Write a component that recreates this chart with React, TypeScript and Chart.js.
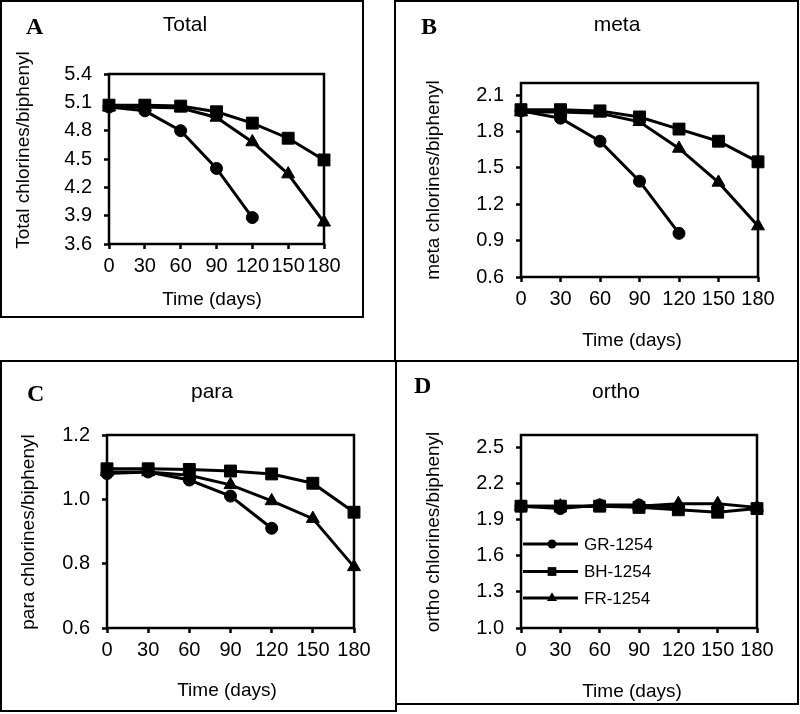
import React, { useEffect, useRef } from 'react';
import { Chart, registerables } from 'chart.js';

Chart.register(...registerables);

// ---------- data ----------
const days = [0, 30, 60, 90, 120, 150, 180];
const seriesNames = ['GR-1254', 'BH-1254', 'FR-1254'];

const totalGR = [5.05, 5.01, 4.8, 4.4, 3.88];
const totalBH = [5.07, 5.07, 5.06, 5.0, 4.88, 4.72, 4.49];
const totalFR = [5.05, 5.05, 5.04, 4.94, 4.68, 4.34, 3.83];

const metaGR = [1.97, 1.91, 1.72, 1.39, 0.96];
const metaBH = [1.98, 1.98, 1.97, 1.92, 1.82, 1.72, 1.55];
const metaFR = [1.96, 1.96, 1.95, 1.88, 1.66, 1.38, 1.02];

const paraGR = [1.08, 1.085, 1.06, 1.01, 0.91];
const paraBH = [1.095, 1.095, 1.093, 1.088, 1.079, 1.05, 0.96];
const paraFR = [1.085, 1.085, 1.075, 1.045, 0.995, 0.94, 0.79];

const orthoGR = [2.01, 1.99, 2.02, 2.02, 2.0];
const orthoBH = [2.01, 2.01, 2.01, 2.0, 1.98, 1.96, 1.99];
const orthoFR = [2.01, 2.01, 2.01, 2.01, 2.03, 2.03, 2.0];

const totalTicks = [3.6, 3.9, 4.2, 4.5, 4.8, 5.1, 5.4];
const metaTicks = [0.6, 0.9, 1.2, 1.5, 1.8, 2.1];
const paraTicks = [0.6, 0.8, 1.0, 1.2];
const orthoTicks = [1.0, 1.3, 1.6, 1.9, 2.2, 2.5];

const xTitle = 'Time (days)';

// ---------- styles ----------
const SANS = "'Liberation Sans', Arial, Helvetica, sans-serif";
const SERIF = "'Liberation Serif', 'Times New Roman', serif";

const seriesStyles = [
  { pointStyle: 'circle', pointRadius: 6, legendRadius: 4.5 },
  { pointStyle: 'rect', pointRadius: 8.4, legendRadius: 6.2 },
  { pointStyle: 'triangle', pointRadius: 7.5, legendRadius: 5.8 },
];

type PanelCfg = {
  letter: string;
  heading: string;
  yTitle: string;
  series: number[][];
  yMin: number;
  yMax: number;
  yTicks: number[];
  box: { x: number; y: number; w: number; h: number };
  padTop: number;
  padRight: number;
  yAxisW: number;
  xAxisH: number;
  letterPos: [number, number];
  headingPos: [number, number];
  yTitlePos: [number, number];
  xTitlePos: [number, number];
  legend?: { x1: number; x2: number; mx: number; tx: number; rows: number[] };
};

const panels: PanelCfg[] = [
  {
    letter: 'A', heading: 'Total', yTitle: 'Total chlorines/biphenyl',
    series: [totalGR, totalBH, totalFR], yMin: 3.6, yMax: 5.4, yTicks: totalTicks,
    box: { x: 0, y: 0, w: 364, h: 318 },
    padTop: 74, padRight: 40, yAxisW: 109, xAxisH: 74,
    letterPos: [26, 34], headingPos: [185, 31], yTitlePos: [29, 150], xTitlePos: [212, 305],
  },
  {
    letter: 'B', heading: 'meta', yTitle: 'meta chlorines/biphenyl',
    series: [metaGR, metaBH, metaFR], yMin: 0.6, yMax: 2.2, yTicks: metaTicks,
    box: { x: 394, y: 0, w: 405, h: 362 },
    padTop: 83, padRight: 41, yAxisW: 127, xAxisH: 85,
    letterPos: [27, 34], headingPos: [223, 31], yTitlePos: [45, 180], xTitlePos: [238, 346],
  },
  {
    letter: 'C', heading: 'para', yTitle: 'para chlorines/biphenyl',
    series: [paraGR, paraBH, paraFR], yMin: 0.6, yMax: 1.2, yTicks: paraTicks,
    box: { x: 0, y: 360, w: 397, h: 352 },
    padTop: 75, padRight: 43, yAxisW: 107, xAxisH: 84,
    letterPos: [27, 41], headingPos: [212, 38], yTitlePos: [34, 172], xTitlePos: [227, 336],
  },
  {
    letter: 'D', heading: 'ortho', yTitle: 'ortho chlorines/biphenyl',
    series: [orthoGR, orthoBH, orthoFR], yMin: 1.0, yMax: 2.6, yTicks: orthoTicks,
    box: { x: 395, y: 360, w: 404, h: 345 },
    padTop: 75, padRight: 42, yAxisW: 126, xAxisH: 77,
    letterPos: [19, 33], headingPos: [221, 38], yTitlePos: [44, 172], xTitlePos: [237, 337],
    legend: { x1: 128, x2: 183, mx: 157, tx: 189, rows: [184, 211.5, 238] },
  },
];

function drawMarker(ctx: CanvasRenderingContext2D, style: string, r: number, x: number, y: number) {
  ctx.beginPath();
  if (style === 'circle') {
    ctx.arc(x, y, r, 0, Math.PI * 2);
  } else if (style === 'rect') {
    const s = Math.SQRT1_2 * r;
    ctx.rect(x - s, y - s, 2 * s, 2 * s);
  } else {
    let rad = 0;
    ctx.moveTo(x + Math.sin(rad) * r, y - Math.cos(rad) * r);
    rad += (2 * Math.PI) / 3;
    ctx.lineTo(x + Math.sin(rad) * r, y - Math.cos(rad) * r);
    rad += (2 * Math.PI) / 3;
    ctx.lineTo(x + Math.sin(rad) * r, y - Math.cos(rad) * r);
    ctx.closePath();
  }
  ctx.fill();
}

const decorPlugin = {
  id: 'panelDecor',
  beforeDatasetsDraw(chart: any) {
    const { ctx, chartArea: a } = chart;
    ctx.save();
    ctx.strokeStyle = '#000';
    ctx.lineWidth = 2.5;
    ctx.strokeRect(a.left, a.top, a.right - a.left, a.bottom - a.top);
    ctx.restore();
  },
  afterDraw(chart: any, _args: any, opts: any) {
    const ctx: CanvasRenderingContext2D = chart.ctx;
    const cfg: PanelCfg = opts.cfg;
    ctx.save();
    ctx.fillStyle = '#000';
    ctx.textBaseline = 'alphabetic';

    ctx.font = `bold 24px ${SERIF}`;
    ctx.textAlign = 'left';
    ctx.fillText(cfg.letter, cfg.letterPos[0], cfg.letterPos[1]);

    ctx.font = `21px ${SANS}`;
    ctx.textAlign = 'center';
    ctx.fillText(cfg.heading, cfg.headingPos[0], cfg.headingPos[1]);

    ctx.font = `19px ${SANS}`;
    ctx.fillText(xTitle, cfg.xTitlePos[0], cfg.xTitlePos[1]);

    ctx.save();
    ctx.translate(cfg.yTitlePos[0], cfg.yTitlePos[1]);
    ctx.rotate(-Math.PI / 2);
    ctx.fillText(cfg.yTitle, 0, 0);
    ctx.restore();

    if (cfg.legend) {
      const L = cfg.legend;
      chart.data.datasets.forEach((ds: any, i: number) => {
        const y = L.rows[i];
        ctx.strokeStyle = '#000';
        ctx.lineWidth = 3;
        ctx.beginPath();
        ctx.moveTo(L.x1, y);
        ctx.lineTo(L.x2, y);
        ctx.stroke();
        drawMarker(ctx, seriesStyles[i].pointStyle, seriesStyles[i].legendRadius, L.mx, y);
        ctx.font = `17px ${SANS}`;
        ctx.textAlign = 'left';
        ctx.textBaseline = 'middle';
        ctx.fillText(ds.label, L.tx, y + 1);
      });
    }
    ctx.restore();
  },
};

function Panel({ cfg }: { cfg: PanelCfg }) {
  const ref = useRef<HTMLCanvasElement>(null);
  useEffect(() => {
    const tickGrid = {
      display: true,
      drawOnChartArea: false,
      drawTicks: true,
      tickLength: 5,
      tickWidth: 2.5,
      tickColor: '#000',
      color: '#000',
    };
    const chart = new Chart(ref.current as HTMLCanvasElement, {
      type: 'line',
      data: {
        datasets: cfg.series.map((vals, i) => ({
          label: seriesNames[i],
          data: vals.map((v, j) => ({ x: days[j], y: v })),
          borderColor: '#000',
          backgroundColor: '#000',
          borderWidth: 3,
          pointStyle: seriesStyles[i].pointStyle as any,
          pointRadius: seriesStyles[i].pointRadius,
          pointBackgroundColor: '#000',
          pointBorderColor: '#000',
          pointBorderWidth: 1,
          tension: 0,
          clip: false as any,
        })),
      },
      options: {
        animation: false,
        responsive: false,
        maintainAspectRatio: false,
        devicePixelRatio: 1,
        events: [],
        layout: { padding: { top: cfg.padTop, right: cfg.padRight, left: 0, bottom: 0 } },
        plugins: {
          legend: { display: false },
          tooltip: { enabled: false },
          title: { display: false },
          panelDecor: { cfg },
        } as any,
        scales: {
          x: {
            type: 'linear',
            min: 0,
            max: 180,
            afterBuildTicks: (s: any) => {
              s.ticks = days.map((v) => ({ value: v }));
            },
            afterFit: (s: any) => {
              s.height = cfg.xAxisH;
            },
            border: { display: false },
            grid: tickGrid as any,
            ticks: {
              color: '#000',
              font: { family: SANS, size: 20 },
              padding: 5.5,
              autoSkip: false,
              maxRotation: 0,
              minRotation: 0,
              callback: (v: any) => String(v),
            },
          },
          y: {
            type: 'linear',
            min: cfg.yMin,
            max: cfg.yMax,
            afterBuildTicks: (s: any) => {
              s.ticks = cfg.yTicks.map((v) => ({ value: v }));
            },
            afterFit: (s: any) => {
              s.width = cfg.yAxisW;
            },
            border: { display: false },
            grid: tickGrid as any,
            ticks: {
              color: '#000',
              font: { family: SANS, size: 20 },
              padding: 12,
              autoSkip: false,
              callback: (v: any) => Number(v).toFixed(1),
            },
          },
        },
      },
      plugins: [decorPlugin as any],
    });
    return () => chart.destroy();
  }, [cfg]);
  return (
    <canvas
      ref={ref}
      width={cfg.box.w}
      height={cfg.box.h}
      style={{ position: 'absolute', left: cfg.box.x, top: cfg.box.y, width: cfg.box.w, height: cfg.box.h }}
    />
  );
}

export default function App() {
  return (
    <div style={{ position: 'absolute', left: 0, top: 0, width: 800, height: 714, background: '#fff', overflow: 'hidden' }}>
      {panels.map((p) => (
        <Panel key={p.letter} cfg={p} />
      ))}
      {panels.map((p) => (
        <div
          key={'b' + p.letter}
          style={{
            position: 'absolute',
            left: p.box.x,
            top: p.box.y,
            width: p.box.w,
            height: p.box.h,
            border: '2px solid #000',
            boxSizing: 'border-box',
            pointerEvents: 'none',
          }}
        />
      ))}
    </div>
  );
}
